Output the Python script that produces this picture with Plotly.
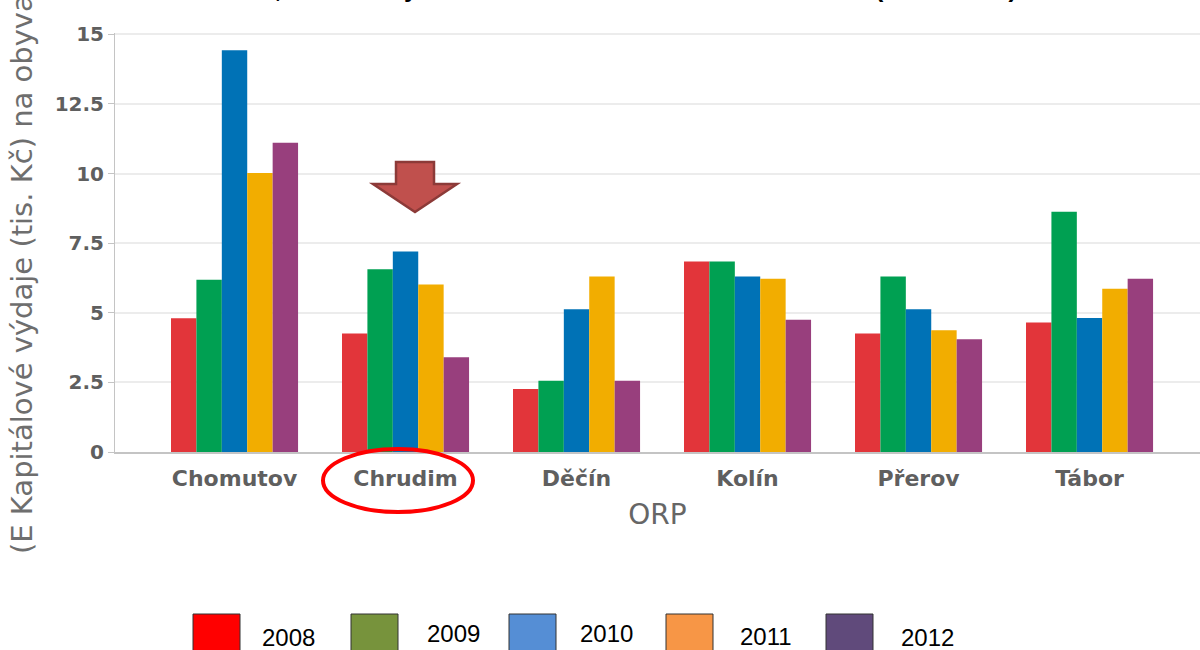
import plotly.graph_objects as go

# data
orp = ["Chomutov", "Chrudim", "Děčín", "Kolín", "Přerov", "Tábor"]
years = ["2008", "2009", "2010", "2011", "2012"]
v2008 = [4.80, 4.26, 2.26, 6.84, 4.26, 4.65]
v2009 = [6.19, 6.56, 2.56, 6.84, 6.30, 8.63]
v2010 = [14.43, 7.20, 5.13, 6.30, 5.13, 4.81]
v2011 = [10.02, 6.02, 6.30, 6.22, 4.37, 5.86]
v2012 = [11.11, 3.40, 2.56, 4.75, 4.05, 6.22]
values = [v2008, v2009, v2010, v2011, v2012]

bar_colors = ["#E2353A", "#00A052", "#0072B6", "#F2AD00", "#983F7D"]
legend_colors = ["#FF0000", "#77933C", "#558ED5", "#F79646", "#604A7B"]

ytitle = "(E Kapitálové výdaje (tis. Kč) na obyvatele)"
title = "Srovnání ORP, vše na obyvatele v tis. Kč ve sledovaném období (2008–2012)"

# plot area in pixels: x 115..1200, y 33..452
L, R, T, B = 115, 1200, 33, 452


def px(x):
    return (x - L) / (R - L)


def py(y):
    return (B - y) / (B - T)


fig = go.Figure()
for yr, vals, col in zip(years, values, bar_colors):
    fig.add_trace(go.Bar(x=orp, y=vals, name=yr, marker_color=col,
                         marker_line_width=0, showlegend=False))

fig.update_layout(
    width=1200, height=650,
    margin=dict(l=L, r=1200 - R, t=T, b=650 - B),
    plot_bgcolor="white", paper_bgcolor="white",
    barmode="group", bargap=0.257, bargroupgap=0,
    font=dict(family="DejaVu Sans", color="#5a5a5a"),
)
fig.update_xaxes(
    range=[-0.699, 5.646], showline=True, linecolor="#c4c4c4", linewidth=2,
    tickfont=dict(size=22, family="DejaVu Sans", weight="bold", color="#5f5f5f"),
    ticks="outside", ticklen=6, tickcolor="white",
    title=dict(text="ORP", font=dict(size=28, color="#666666"), standoff=14),
)
fig.update_yaxes(
    range=[0, 15.05], tickvals=[0, 2.5, 5, 7.5, 10, 12.5, 15],
    ticktext=["0", "2.5", "5", "7.5", "10", "12.5", "15"],
    showgrid=True, gridcolor="#ececec", gridwidth=2,
    showline=True, linecolor="#c4c4c4", linewidth=1,
    ticks="outside", ticklen=6, tickcolor="#c4c4c4",
    tickfont=dict(size=20, family="DejaVu Sans", weight="bold", color="#5f5f5f"),
    zeroline=False,
)

shapes = []
# arrow pointing down to Chrudim
pts = [(396, 162), (434, 162), (434, 184), (457, 184), (415, 212),
       (373, 184), (396, 184)]
path = "M " + " L ".join(f"{px(a):.5f},{py(b):.5f}" for a, b in pts) + " Z"
shapes.append(dict(type="path", xref="paper", yref="paper", path=path,
                   fillcolor="#C0504D", line=dict(color="#8C3A38", width=2.5)))
# red ellipse round Chrudim
shapes.append(dict(type="circle", xref="paper", yref="paper",
                   x0=px(323), x1=px(473), y0=py(512), y1=py(449),
                   line=dict(color="#FF0000", width=4)))

annotations = []
# legend drawn as boxes + labels
sq_x = [193, 351, 509, 666, 826]
lab_x = [288, 453, 606, 766, 927]
lab_y = [637, 633, 633, 636, 637]
for yr, col, sx, lx, ly in zip(years, legend_colors, sq_x, lab_x, lab_y):
    shapes.append(dict(type="rect", xref="paper", yref="paper",
                       x0=px(sx), x1=px(sx + 47), y0=py(662), y1=py(614),
                       fillcolor=col, line=dict(color="#333333", width=1)))
    annotations.append(dict(text=yr, xref="paper", yref="paper",
                            x=px(lx), y=py(ly), xanchor="center", yanchor="middle",
                            showarrow=False, borderpad=0,
                            font=dict(family="Liberation Sans", size=24, color="black")))

annotations.append(dict(text=ytitle, xref="paper", yref="paper",
                        x=px(22), y=py(556), xanchor="center", yanchor="bottom",
                        textangle=-90, showarrow=False,
                        font=dict(family="DejaVu Sans", size=29, color="#6e6e6e")))
annotations.append(dict(text=title, xref="paper", yref="paper",
                        x=px(1019), y=py(4), xanchor="right", yanchor="bottom",
                        showarrow=False,
                        font=dict(family="Liberation Sans", size=25, weight="bold", color="black")))

fig.update_layout(shapes=shapes, annotations=annotations)
fig.write_html("out.html", config={"displayModeBar": False},
               post_script="document.body.style.margin='0';")
